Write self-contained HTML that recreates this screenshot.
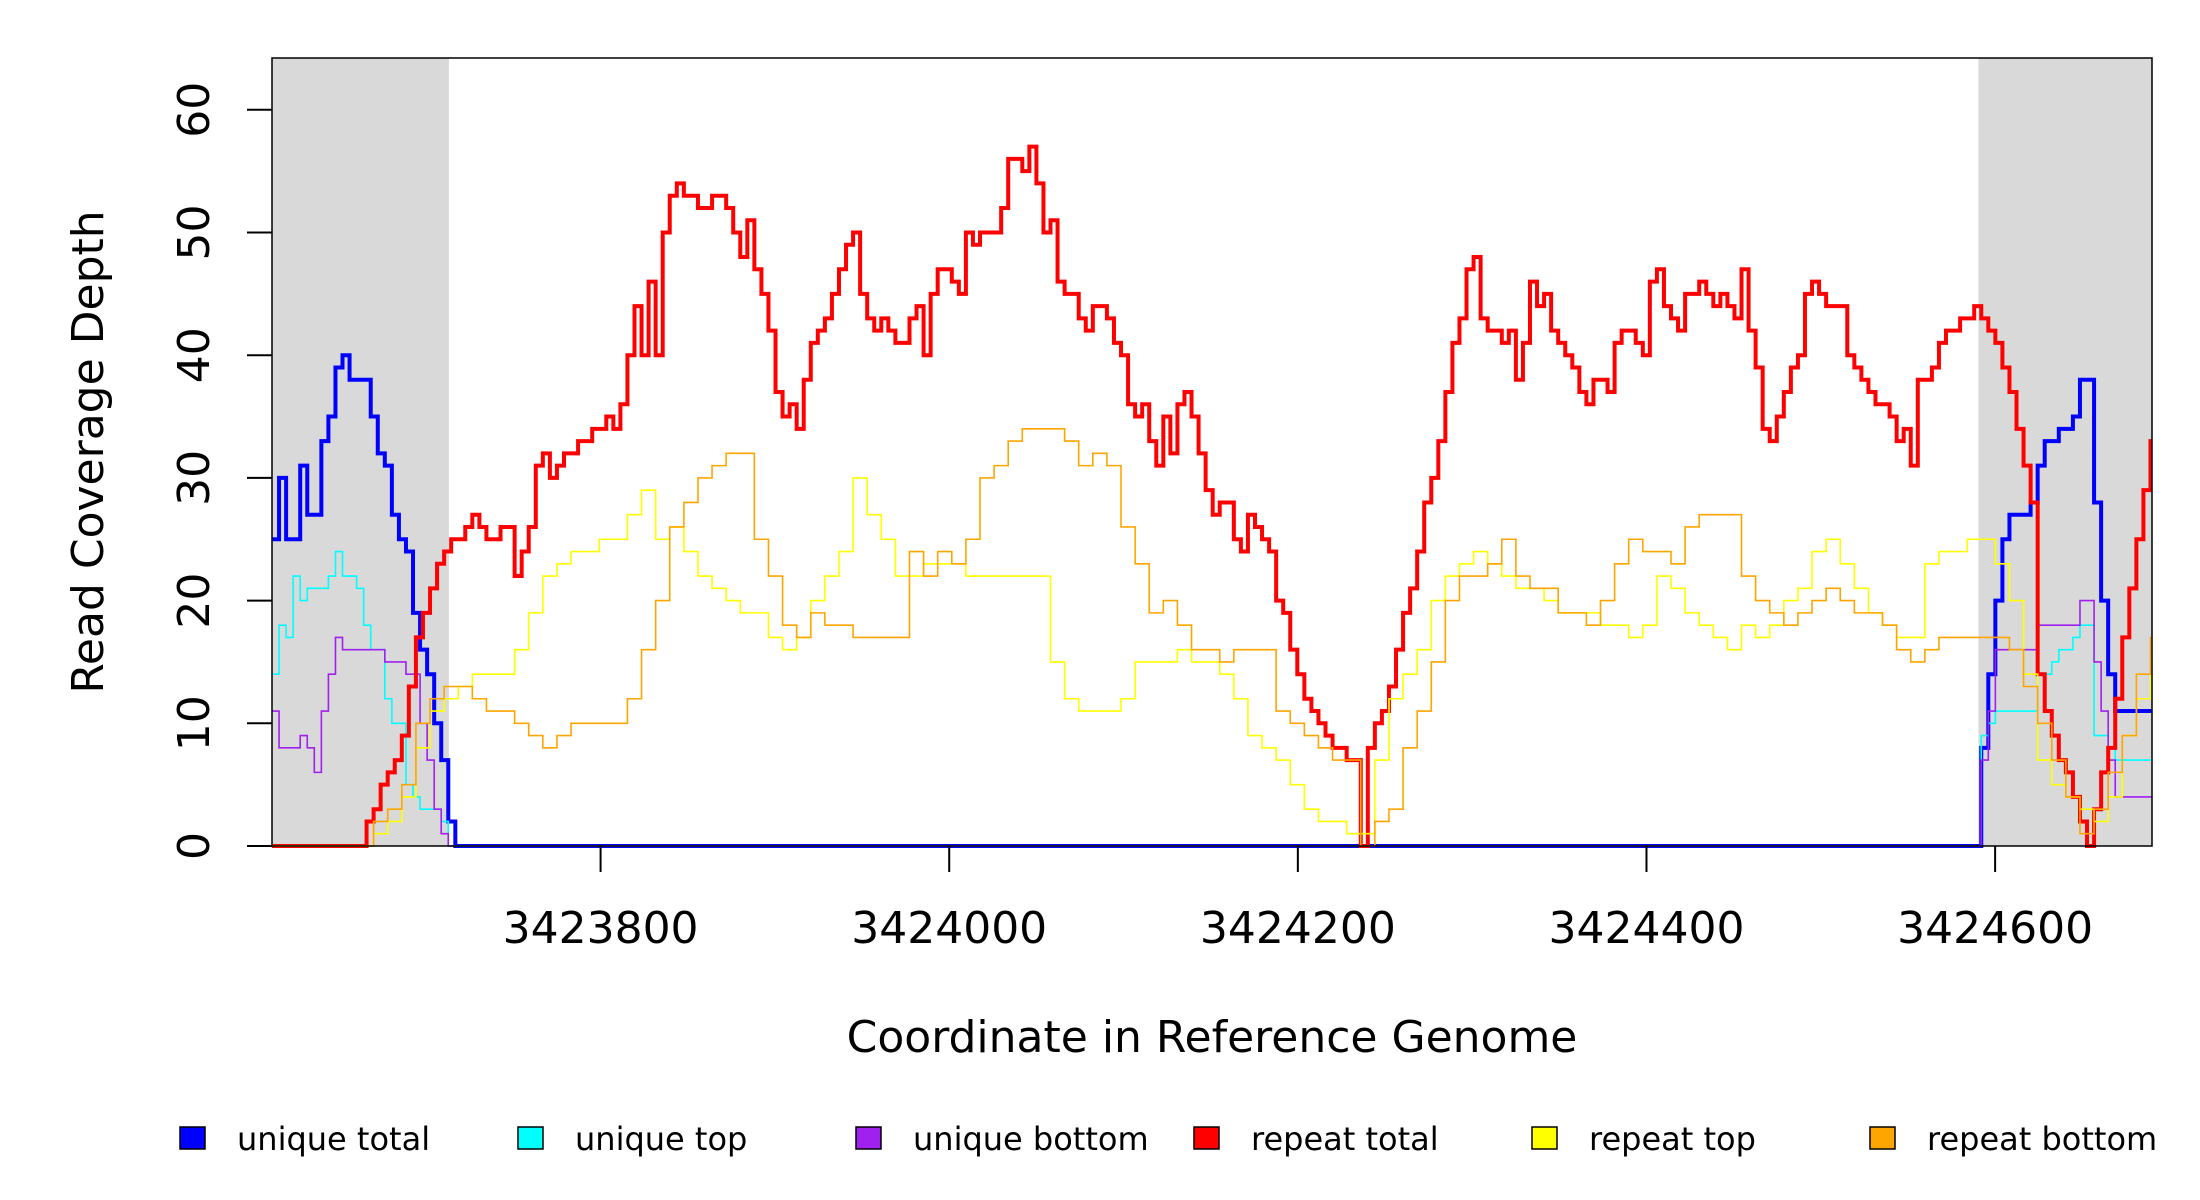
<!DOCTYPE html>
<html><head><meta charset="utf-8">
<style>
html,body{margin:0;padding:0;background:#fff;}
svg{display:block;font-family:"DejaVu Sans","Liberation Sans",sans-serif;}
</style></head>
<body>
<svg id="chart" width="2200" height="1200" viewBox="0 0 2200 1200" xmlns="http://www.w3.org/2000/svg">
<g id="plot"></g>
<g id="axes"></g>
<text x="1212" y="1052" font-size="44" text-anchor="middle">Coordinate in Reference Genome</text>
<text transform="translate(103,452) rotate(-90)" font-size="44" text-anchor="middle">Read Coverage Depth</text>
<g id="legend"></g>
</svg>
<script>
// ---- data ----
const xTicks = [3423800, 3424000, 3424200, 3424400, 3424600];
const yTicks = [0, 10, 20, 30, 40, 50, 60];
const shadedRegions = [[3423611.5, 3423713], [3424590.4, 3424690]];
const seriesNames = ["unique total","unique top","unique bottom","repeat total","repeat top","repeat bottom"];
const seriesColors = ["#0000ff","#00ffff","#a020f0","#ff0000","#ffff00","#ffa500"];

const uniqueTotalLeft = [25,30,25,25,31,27,27,33,35,39,40,38,38,38,35,32,31,27,25,24,19,16,14,10,7,2,0];
const uniqueTotalRight = [0,8,14,20,25,27,27,27,28,31,33,33,34,34,35,38,38,28,20,14,11,11,11,11,11,11];
const uniqueTopLeft = [14,18,17,22,20,21,21,21,22,24,22,22,21,18,16,16,12,10,10,5,4,3,3,3,2,0,0];
const uniqueTopRight = [0,9,10,11,11,11,11,11,11,14,14,15,16,16,17,18,18,9,9,8,7,7,7,7,7,7];
const uniqueBottomLeft = [11,8,8,8,9,8,6,11,14,17,16,16,16,16,16,16,15,15,15,14,14,10,7,3,1,0,0];
const uniqueBottomRight = [0,7,11,16,16,16,16,16,16,18,18,18,18,18,18,20,20,15,11,7,4,4,4,4,4,4];

const repeatTotal = [0,2,3,5,6,7,9,13,17,19,21,23,24,25,25,26,27,26,25,25,26,26,22,24,26,31,32,30,31,32,32,33,33,34,34,35,34,36,40,44,40,46,40,50,53,54,53,53,52,52,53,53,52,50,48,51,47,45,42,37,35,36,34,38,41,42,43,45,47,49,50,45,43,42,43,42,41,41,43,44,40,45,47,47,46,45,50,49,50,50,50,52,56,56,55,57,54,50,51,46,45,45,43,42,44,44,43,41,40,36,35,36,33,31,35,32,36,37,35,32,29,27,28,28,25,24,27,26,25,24,20,19,16,14,12,11,10,9,8,8,7,7,0,8,10,11,13,16,19,21,24,28,30,33,37,41,43,47,48,43,42,42,41,42,38,41,46,44,45,42,41,40,39,37,36,38,38,37,41,42,42,41,40,46,47,44,43,42,45,45,46,45,44,45,44,43,47,42,39,34,33,35,37,39,40,45,46,45,44,44,44,40,39,38,37,36,36,35,33,34,31,38,38,39,41,42,42,43,43,44,43,42,41,39,37,34,31,28,14,11,9,7,6,4,2,0,3,6,8,12,17,21,25,29,33];
const repeatBottom = [0,2,3,5,10,12,13,13,12,11,11,10,9,8,9,10,10,10,10,12,16,20,26,28,30,31,32,32,25,22,18,17,19,18,18,17,17,17,17,24,22,24,23,25,30,31,33,34,34,34,33,31,32,31,26,23,19,20,18,16,16,15,16,16,16,11,10,9,8,7,7,0,2,3,8,11,15,20,22,22,23,25,22,21,21,19,19,18,20,23,25,24,24,23,26,27,27,27,22,20,19,18,19,20,21,20,19,19,18,16,15,16,17,17,17,17,17,16,13,10,7,4,1,3,6,9,14,17];
const repeatTop = [0,1,2,4,8,11,12,13,14,14,14,16,19,22,23,24,24,25,25,27,29,25,26,24,22,21,20,19,19,17,16,17,20,22,24,30,27,25,22,22,23,23,23,22,22,22,22,22,22,15,12,11,11,11,12,15,15,15,16,15,15,14,12,9,8,7,5,3,2,2,1,1,7,12,14,16,20,22,23,24,23,22,21,21,20,19,19,19,18,18,17,18,22,21,19,18,17,16,18,17,18,20,21,24,25,23,21,19,18,17,17,23,24,24,25,25,23,20,14,7,5,4,3,2,4,9,12,15];

const seriesData = [
  [{start:3423611.5, step:4.045, vals:uniqueTotalLeft},{start:3424588.0, step:4.045, vals:uniqueTotalRight}],
  [{start:3423611.5, step:4.045, vals:uniqueTopLeft},{start:3424588.0, step:4.045, vals:uniqueTopRight}],
  [{start:3423611.5, step:4.045, vals:uniqueBottomLeft},{start:3424588.0, step:4.045, vals:uniqueBottomRight}],
  [{start:3423661.7, step:4.045, vals:repeatTotal}],
  [{start:3423661.7, step:8.09, vals:repeatTop}],
  [{start:3423661.7, step:8.09, vals:repeatBottom}]
];
const seriesWidths = [4,1.6,1.6,4,1.6,1.6];

// ---- scales ----
const X0 = 272, X1 = 2152, Y0 = 846, YT = 58;
const xMin = 3423611.5, xMax = 3424690;
const yPer = 12.27;
function sx(v){ return X0 + (v - xMin) / (xMax - xMin) * (X1 - X0); }
function sy(v){ return Y0 - v * yPer; }

const NS = "http://www.w3.org/2000/svg";
function mk(tag, attrs, parent){
  const e = document.createElementNS(NS, tag);
  for (const k in attrs) e.setAttribute(k, attrs[k]);
  parent.appendChild(e);
  return e;
}
const plot = document.getElementById('plot');
const axes = document.getElementById('axes');
const legend = document.getElementById('legend');

shadedRegions.forEach((r, i) => {
  const a = Math.max(r[0], xMin), b = Math.min(r[1], xMax);
  const rect = mk('rect', {x:sx(a), y:YT, width:sx(b)-sx(a), height:Y0-YT, fill:'#d9d9d9'}, plot);
  
  
});

seriesData.forEach((segs, si) => {
  let d = '';
  let started = false;
  segs.forEach((seg) => {
    seg.vals.forEach((v, i) => {
      const px = sx(seg.start + i * seg.step);
      const py = sy(v);
      if (!started) {
        if (seg.start > xMin + 1) { d += 'M' + sx(xMin) + ' ' + sy(0) + ' H' + px + ' V' + py; }
        else d += 'M' + px + ' ' + py;
        started = true;
      } else {
        d += ' H' + px.toFixed(2) + ' V' + py.toFixed(2);
      }
    });
  });
  d += ' H' + sx(xMax);
  const p = mk('path', {d:d, fill:'none', stroke:seriesColors[si], 'stroke-width':seriesWidths[si], 'stroke-linejoin':'miter'}, plot);
  
  
});

const box = mk('rect', {x:X0, y:YT, width:X1-X0, height:Y0-YT, fill:'none', stroke:'#000', 'stroke-width':1.5}, axes);



yTicks.forEach(t => {
  const y = sy(t);
  const ln = mk('line', {x1:X0-25, x2:X0, y1:y, y2:y, stroke:'#000', 'stroke-width':2}, axes);
  
  
  const tx = mk('text', {transform:'translate(209,' + y + ') rotate(-90)', 'font-size':44, 'text-anchor':'middle'}, axes);
  tx.textContent = t;
  
  
});
xTicks.forEach(t => {
  const x = sx(t);
  const ln = mk('line', {x1:x, x2:x, y1:Y0, y2:Y0+26, stroke:'#000', 'stroke-width':2}, axes);
  
  
  const tx = mk('text', {x:x, y:943, 'font-size':44, 'text-anchor':'middle'}, axes);
  tx.textContent = t;
  
  
});

const legendX = [180, 518, 856, 1194, 1532, 1870];
seriesNames.forEach((n, i) => {
  const g = mk('g', {}, legend);
  
  
  mk('rect', {x:legendX[i], y:1127, width:25, height:22, fill:seriesColors[i], stroke:'#000', 'stroke-width':1.5}, g);
  const tx = mk('text', {x:legendX[i]+57, y:1150, 'font-size':32}, g);
  tx.textContent = n;
});
</script>
</body></html>
